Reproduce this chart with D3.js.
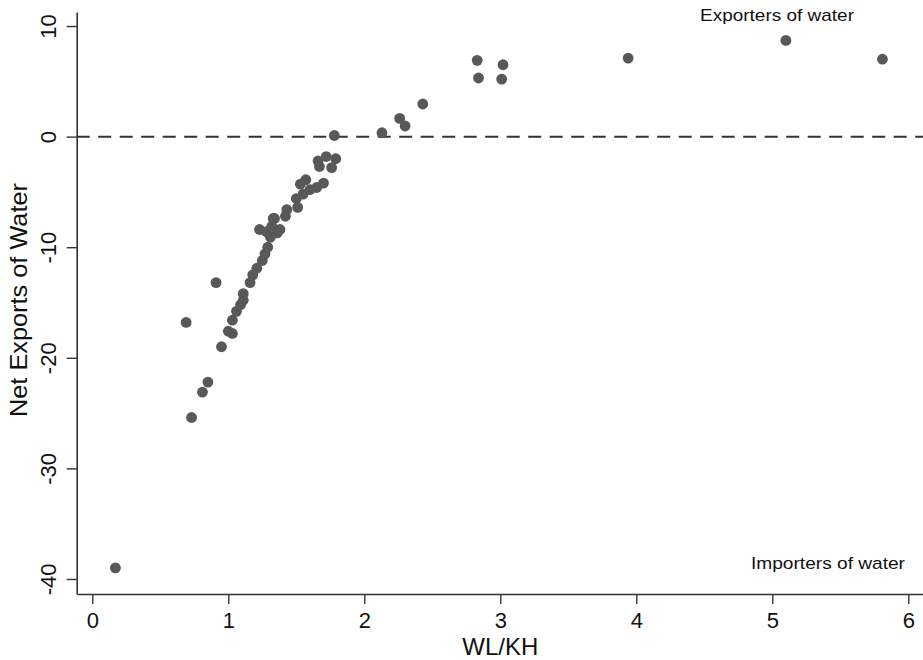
<!DOCTYPE html>
<html><head><meta charset="utf-8">
<script src="https://cdn.jsdelivr.net/npm/d3@7"></script>
<style>body{margin:0;background:#fff;} text{font-family:"Liberation Sans",Arial,Helvetica,sans-serif;}</style>
</head><body><svg id="c" width="923" height="660"></svg>
<script>
const wlkh = [0.17,0.69,0.73,0.81,0.85,0.91,0.95,1.00,1.03,1.03,1.06,1.09,1.11,1.11,1.16,1.18,1.21,1.25,1.27,1.29,
  1.23,1.28,1.32,1.38,1.36,1.31,1.33,1.43,1.34,1.42,1.50,1.51,
  1.53,1.57,1.60,1.65,1.70,1.55,
  1.66,1.72,1.79,1.76,1.67,1.78,
  2.13,2.26,2.30,2.43,2.83,2.84,3.02,3.01,3.94,5.10,5.81];
const netExports = [-39.0,-16.8,-25.4,-23.1,-22.2,-13.2,-19.0,-17.6,-17.8,-16.6,-15.8,-15.2,-14.8,-14.2,-13.2,-12.5,-11.9,-11.2,-10.6,-10.0,
  -8.4,-8.6,-8.1,-8.4,-8.7,-9.1,-7.4,-6.6,-7.4,-7.2,-5.6,-6.4,
  -4.3,-3.9,-4.8,-4.6,-4.2,-5.2,
  -2.2,-1.8,-2.0,-2.8,-2.7,0.1,
  0.35,1.65,0.96,2.95,6.9,5.3,6.5,5.2,7.1,8.7,7.0];
const xTicks = [0,1,2,3,4,5,6];
const yTicks = [-40,-30,-20,-10,0,10];
const xTitle = "WL/KH";
const yTitle = "Net Exports of Water";
const noteTop = "Exporters of water";
const noteBottom = "Importers of water";

const svg = d3.select("#c");
const L = 76.7, R = 923, T = 12, B = 594;
const x = d3.scaleLinear().domain([-0.1147, 6.1081]).range([L, R]);
const y = d3.scaleLinear().domain([11.27, -41.36]).range([T, B]);
const axisCol = "#333";

// dashed zero line
svg.append("line").attr("x1", L).attr("x2", R).attr("y1", y(0)).attr("y2", y(0))
  .attr("stroke", "#333").attr("stroke-width", 2).attr("stroke-dasharray", "13,8.5");

// points
svg.append("g").selectAll("circle").data(wlkh.map((v,i)=>[v, netExports[i]])).join("circle")
  .attr("cx", d=>x(d[0])).attr("cy", d=>y(d[1])).attr("r", 5.4).attr("fill", "#585858");

// axes
const fmt = d => String(d);
const xa = svg.append("g").attr("transform", `translate(0,${B})`)
  .call(d3.axisBottom(x).tickValues(xTicks).tickSize(10).tickSizeOuter(0).tickFormat(fmt));
const ya = svg.append("g").attr("transform", `translate(${L},0)`)
  .call(d3.axisLeft(y).tickValues(yTicks).tickSize(10).tickSizeOuter(0).tickFormat(fmt));
[xa, ya].forEach(a => {
  a.select(".domain").attr("stroke", axisCol).attr("stroke-width", 1.6);
  a.selectAll(".tick line").attr("stroke", axisCol).attr("stroke-width", 1.4);
  a.selectAll(".tick text").attr("fill", "#111").style("font-size", "22px").style("font-family", "Liberation Sans, Arial, sans-serif");
});
xa.selectAll(".tick text").attr("y", 34).attr("dy", "0");
ya.selectAll(".tick text").attr("transform", "rotate(-90)").attr("x", 0).attr("y", -21)
  .attr("dy", "0em").attr("text-anchor", "middle");

// titles
svg.append("text").attr("x", x(3)).attr("y", 655).attr("text-anchor", "middle")
  .style("font-size", "24px").attr("fill", "#111")
  .attr("textLength", 76).attr("lengthAdjust", "spacingAndGlyphs").text(xTitle);
svg.append("text").attr("transform", `translate(27,300) rotate(-90)`).attr("text-anchor", "middle")
  .style("font-size", "24px").attr("fill", "#111")
  .attr("textLength", 234).attr("lengthAdjust", "spacingAndGlyphs").text(yTitle);

// notes
svg.append("text").attr("x", 777).attr("y", 21).attr("text-anchor", "middle")
  .style("font-size", "17px").attr("fill", "#111")
  .attr("textLength", 154).attr("lengthAdjust", "spacingAndGlyphs").text(noteTop);
svg.append("text").attr("x", 905).attr("y", 569).attr("text-anchor", "end")
  .style("font-size", "17px").attr("fill", "#111")
  .attr("textLength", 154).attr("lengthAdjust", "spacingAndGlyphs").text(noteBottom);
</script></body></html>
